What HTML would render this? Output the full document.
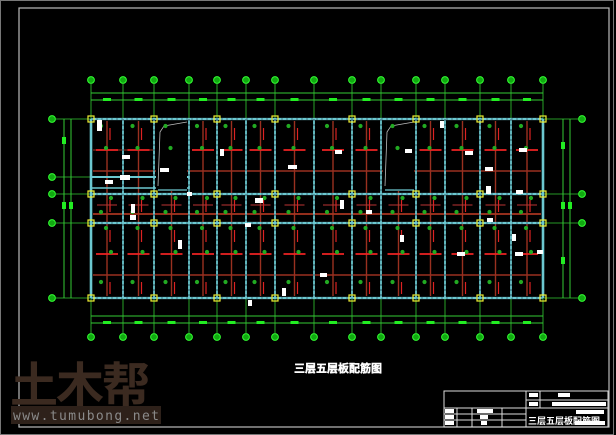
<!DOCTYPE html>
<html><head><meta charset="utf-8"><style>
html,body{margin:0;padding:0;background:#000;width:616px;height:435px;overflow:hidden}
svg{display:block}
</style></head><body>
<svg id="s" width="616" height="435" viewBox="0 0 616 435" xmlns="http://www.w3.org/2000/svg" font-family="Liberation Sans, Noto Sans CJK SC, sans-serif">
<rect x="0.5" y="0.5" width="613" height="434" fill="#000" stroke="#777" stroke-width="1"/>
<rect x="19" y="8" width="590" height="419" fill="none" stroke="#bbb" stroke-width="1.2"/>
<g id="g"></g>
<text x="10" y="402" font-size="48" font-weight="bold" fill="#3b2a20" font-family="Noto Sans CJK SC, sans-serif" letter-spacing="-2">土木帮</text>
<rect x="11" y="406" width="150" height="18" fill="#2e211a"/>
<text x="13" y="420" font-size="13" fill="#8a8a8a" font-family="DejaVu Sans Mono, Liberation Mono, monospace" textLength="146">www.tumubong.net</text>
<text x="294" y="372" font-size="11" font-weight="bold" fill="#fff" stroke="#fff" stroke-width="0.4" font-family="Noto Sans CJK SC, sans-serif">三层五层板配筋图</text>
<g stroke="#ddd" stroke-width="1" fill="none">
<rect x="444" y="391" width="164" height="36"/>
<line x1="526" y1="391" x2="526" y2="427"/>
<line x1="526" y1="400" x2="608" y2="400"/>
<line x1="444" y1="408" x2="608" y2="408"/>
<line x1="444" y1="414" x2="526" y2="414"/>
<line x1="444" y1="420" x2="526" y2="420"/>
<line x1="457" y1="408" x2="457" y2="427"/>
<line x1="472" y1="408" x2="472" y2="427"/>
<line x1="502" y1="408" x2="502" y2="427"/>
<line x1="540" y1="391" x2="540" y2="408"/>
</g>
<g fill="#fff" font-size="5" font-family="Noto Sans CJK SC, sans-serif">
<rect x="529" y="393" width="9" height="4"/><rect x="558" y="393" width="12" height="4"/>
<rect x="529" y="402" width="9" height="4"/><rect x="552" y="402" width="54" height="4"/>
<rect x="445" y="409" width="9" height="4"/><rect x="477" y="409" width="16" height="4"/>
<rect x="445" y="415" width="9" height="4"/><rect x="480" y="415" width="8" height="4"/>
<rect x="445" y="421" width="9" height="4"/><rect x="481" y="421" width="6" height="4"/>
<rect x="576" y="410" width="28" height="4"/><rect x="575" y="421" width="30" height="4"/>
<text x="528" y="424" font-size="9" font-weight="bold">三层五层板配筋图</text>
</g>
</svg>
<script>
const NS="http://www.w3.org/2000/svg",G=document.getElementById('g');
function el(t,a){const e=document.createElementNS(NS,t);for(const k in a)e.setAttribute(k,a[k]);G.appendChild(e);return e}
function L(x1,y1,x2,y2,c,w,d){const a={x1,y1,x2,y2,stroke:c,'stroke-width':w||1};if(d)a['stroke-dasharray']=d;el('line',a)}
const X=[91,123,154,189,217,246,275,314,352,381,416,445,480,511,543];
const T=119,B=298,Lx=91,Rx=543;
L(91,93,543,93,'#3c3',1);L(91,100,543,100,'#3c3',1);
L(91,316,543,316,'#3c3',1);L(91,323,543,323,'#3c3',1);
L(64,119,64,298,'#3c3',1);L(71,119,71,298,'#3c3',1);
L(563,119,563,298,'#3c3',1);L(570,119,570,298,'#3c3',1);
for(let i=0;i<X.length-1;i++){const m=(X[i]+X[i+1])/2;el('rect',{x:m-4,y:98,width:8,height:3,fill:'#2e2'});el('rect',{x:m-4,y:321,width:8,height:3,fill:'#2e2'});}
[[64,140],[64,205],[71,205],[563,145],[563,205],[570,205],[563,260]].forEach(p=>el('rect',{x:p[0]-2,y:p[1]-3,width:4,height:7,fill:'#2e2'}));
X.forEach(x=>{L(x,84,x,119,'#3c3',0.8);L(x,298,x,333,'#3c3',0.8);L(x,119,x,298,'#777',0.6);
 [80,337].forEach(y=>{el('circle',{cx:x,cy:y,r:3.4,fill:'#1a1',stroke:'#3f3','stroke-width':1});});});
[119,177,194,223,298].forEach(y=>{L(56,y,91,y,'#3c3',0.8);el('circle',{cx:52,cy:y,r:3.4,fill:'#1a1',stroke:'#3f3','stroke-width':1});});
[119,194,223,298].forEach(y=>{L(543,y,578,y,'#3c3',0.8);el('circle',{cx:582,cy:y,r:3.4,fill:'#1a1',stroke:'#3f3','stroke-width':1});});
const dr='#9a3020';
for(let i=0;i<X.length-1;i++){const m=(X[i]+X[i+1])/2;L(m,121,m,296,dr,1.4);}
L(93,171,541,171,dr,1.6);L(93,214,541,214,'#a83420',1.8);L(93,275,541,275,dr,1.6);L(93,150,154,150,dr,1);
for(let i=0;i<X.length-1;i++){const m=(X[i]+X[i+1])/2;
 if(!(m>154&&m<189)&&!(m>381&&m<416)) L(m-11,150,m+11,150,'#e22',1.8);
 L(m-11,254,m+11,254,'#e22',1.8);
 L(m+3,128,m+3,140,'#d22',1.2);L(m+3,200,m+3,212,'#d22',1.2);L(m+3,230,m+3,242,'#d22',1.2);L(m+3,282,m+3,294,'#d22',1.2);
 L(m-10,205,m+10,205,'#b33',1);}
const cy='#6cc8d0';
[119,194,223,298].forEach(y=>{L(Lx,y,Rx,y,cy,2.2);L(Lx,y,Rx,y,'#123',0.6,'2 3');});
L(Lx,177,189,177,cy,2);L(Lx,188,189,188,cy,1.4);
X.forEach(x=>{L(x,T,x,B,cy,1.8);L(x,T,x,B,'#123',0.6,'2 3');});
L(Lx,T,Lx,B,cy,2.6);L(Rx,T,Rx,B,cy,2.6);
[[154,189],[381,416]].forEach(o=>{el('rect',{x:o[0]+2,y:121,width:o[1]-o[0]-4,height:70,fill:'#000'});
 L(o[0]+4,190,o[1]-2,190,cy,1.2);
 el('polyline',{points:`${o[0]+4},186 ${o[0]+6},132 ${o[0]+10},126 ${o[1]-2},122`,fill:'none',stroke:'#bbb','stroke-width':0.8});});
[91,154,217,275,352,416,480,543].forEach(x=>[119,194,223,298].forEach(y=>el('rect',{x:x-3,y:y-3,width:6,height:6,fill:'none',stroke:'#ee3','stroke-width':1.2})));
for(let i=0;i<X.length-1;i++){const m=(X[i]+X[i+1])/2;[126,148,198,212,228,252,282].forEach((y,j)=>{el('circle',{cx:m-6+(j%3)*5,cy:y,r:2.1,fill:'#2a2'});});}
[[97,120,4,10],[160,168,8,3],[122,155,7,3],[120,175,9,4],[178,240,3,8],[131,204,3,8],[130,215,5,4],[255,198,7,4],[288,165,8,3],[320,273,6,3],[282,288,3,7],[405,149,6,3],[465,151,7,3],[485,167,7,3],[486,186,4,7],[487,218,5,3],[220,149,3,6],[400,235,3,6],[335,150,6,3],[516,190,6,3],[519,148,7,3],[515,252,7,3],[537,250,5,3],[340,200,3,8],[105,180,7,3],[245,223,5,3],[248,300,3,5],[187,192,4,3],[440,121,3,6],[366,210,5,3],[512,234,3,6],[457,252,7,3]].forEach(r=>el('rect',{x:r[0],y:r[1],width:r[2]+1,height:r[3]+1,fill:'#fff'}));
</script>
</body></html>
